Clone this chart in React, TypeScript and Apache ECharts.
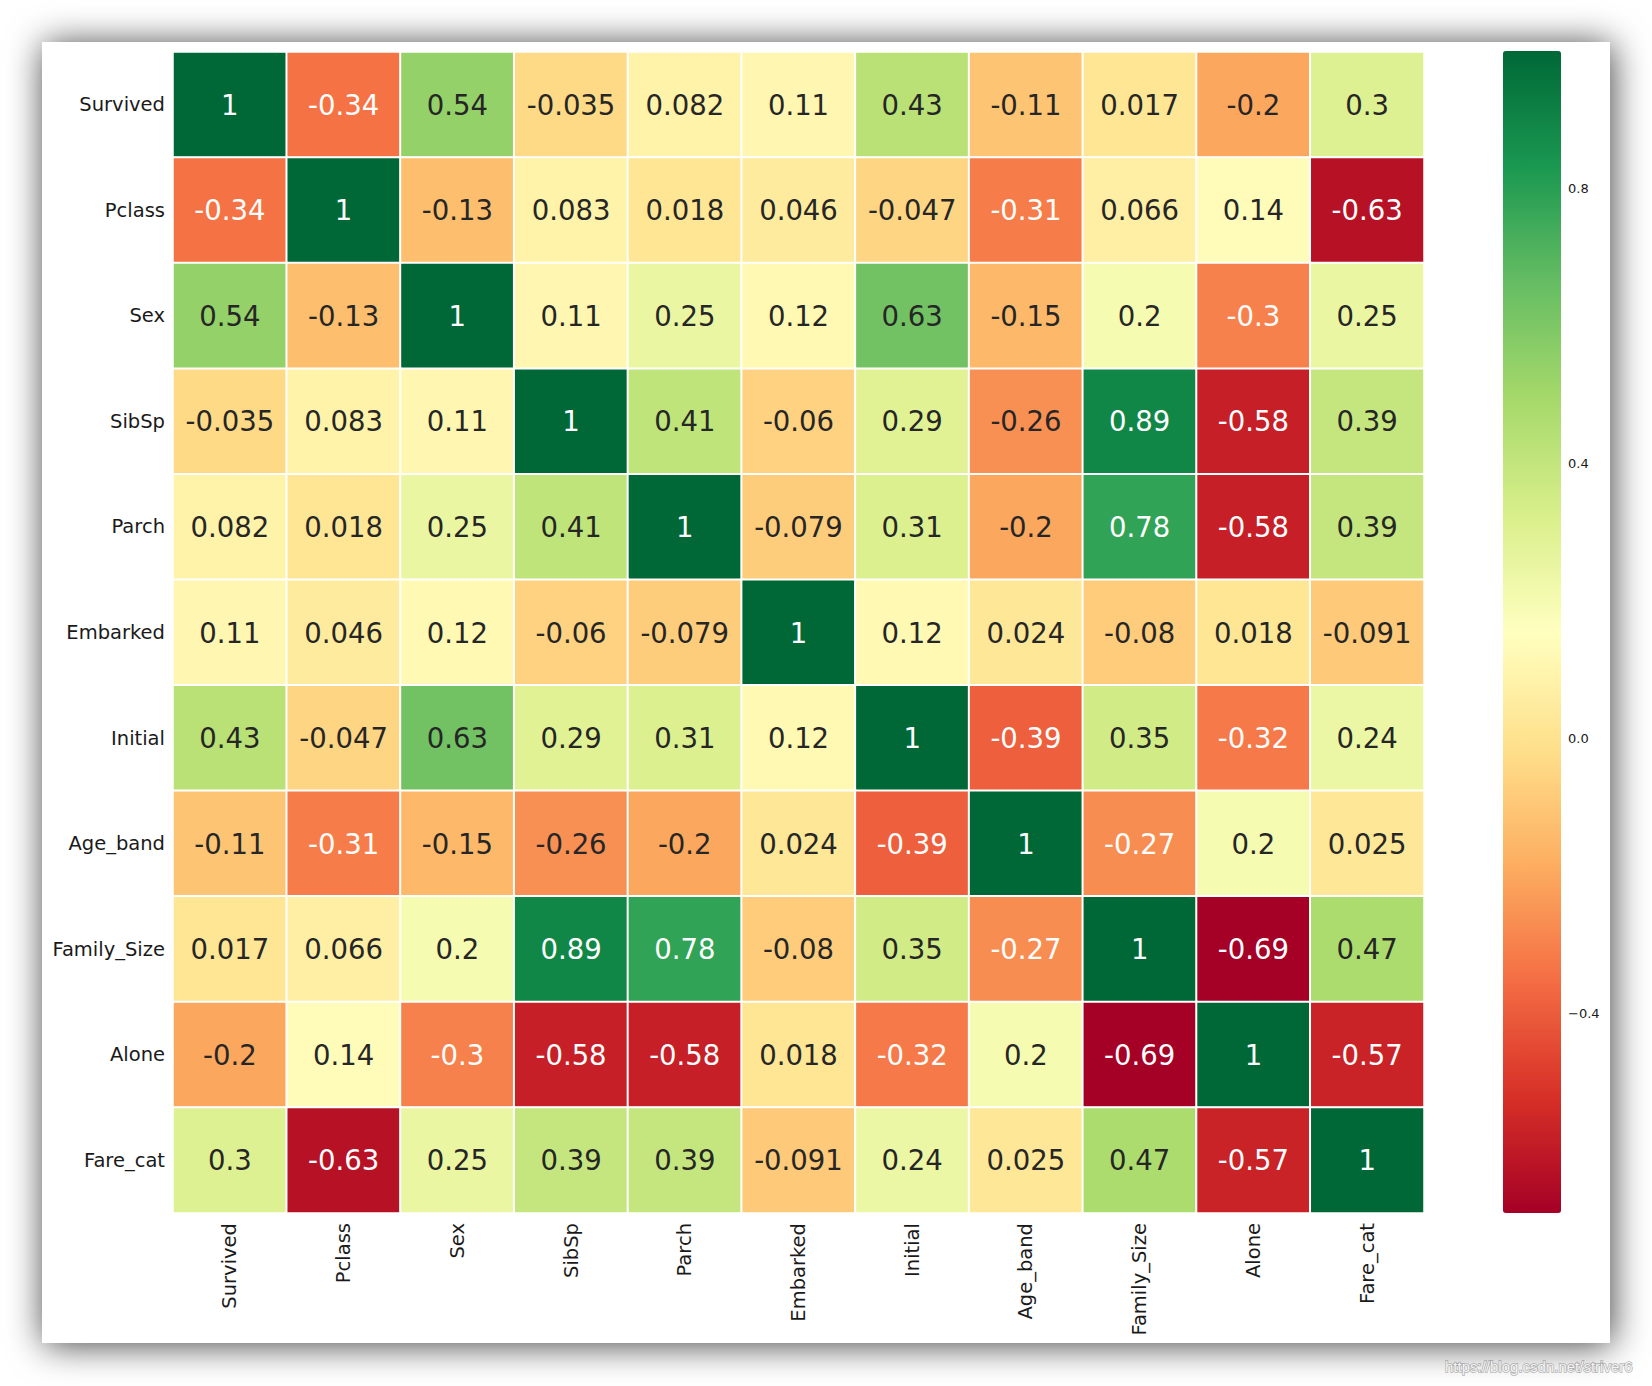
import React, { useEffect, useRef } from "react";
import * as echarts from "echarts";

const labels = ["Survived", "Pclass", "Sex", "SibSp", "Parch", "Embarked", "Initial", "Age_band", "Family_Size", "Alone", "Fare_cat"];

const rowSurvived = [1, -0.34, 0.54, -0.035, 0.082, 0.11, 0.43, -0.11, 0.017, -0.2, 0.3];
const rowPclass = [-0.34, 1, -0.13, 0.083, 0.018, 0.046, -0.047, -0.31, 0.066, 0.14, -0.63];
const rowSex = [0.54, -0.13, 1, 0.11, 0.25, 0.12, 0.63, -0.15, 0.2, -0.3, 0.25];
const rowSibSp = [-0.035, 0.083, 0.11, 1, 0.41, -0.06, 0.29, -0.26, 0.89, -0.58, 0.39];
const rowParch = [0.082, 0.018, 0.25, 0.41, 1, -0.079, 0.31, -0.2, 0.78, -0.58, 0.39];
const rowEmbarked = [0.11, 0.046, 0.12, -0.06, -0.079, 1, 0.12, 0.024, -0.08, 0.018, -0.091];
const rowInitial = [0.43, -0.047, 0.63, 0.29, 0.31, 0.12, 1, -0.39, 0.35, -0.32, 0.24];
const rowAgeBand = [-0.11, -0.31, -0.15, -0.26, -0.2, 0.024, -0.39, 1, -0.27, 0.2, 0.025];
const rowFamilySize = [0.017, 0.066, 0.2, 0.89, 0.78, -0.08, 0.35, -0.27, 1, -0.69, 0.47];
const rowAlone = [-0.2, 0.14, -0.3, -0.58, -0.58, 0.018, -0.32, 0.2, -0.69, 1, -0.57];
const rowFareCat = [0.3, -0.63, 0.25, 0.39, 0.39, -0.091, 0.24, 0.025, 0.47, -0.57, 1];

const matrix = [rowSurvived, rowPclass, rowSex, rowSibSp, rowParch, rowEmbarked, rowInitial, rowAgeBand, rowFamilySize, rowAlone, rowFareCat];

const vMin = -0.69;
const vMax = 1;
const colorbarTicks = [-0.4, 0, 0.4, 0.8];

const RdYlGn = ["#a50026", "#d73027", "#f46d43", "#fdae61", "#fee08b", "#ffffbf", "#d9ef8b", "#a6d96a", "#66bd63", "#1a9850", "#006837"];

function hexToRgb(h: string) {
  return [parseInt(h.slice(1, 3), 16), parseInt(h.slice(3, 5), 16), parseInt(h.slice(5, 7), 16)];
}

function colorAt(v: number) {
  let t = (v - vMin) / (vMax - vMin);
  t = Math.max(0, Math.min(1, t));
  const n = RdYlGn.length - 1;
  const idx = Math.min(n - 1, Math.floor(t * n));
  const f = t * n - idx;
  const a = hexToRgb(RdYlGn[idx]);
  const b = hexToRgb(RdYlGn[idx + 1]);
  return a.map((c, k) => c + (b[k] - c) * f);
}

function textColor(v: number) {
  const rgb = colorAt(v).map((c) => {
    const s = c / 255;
    return s <= 0.03928 ? s / 12.92 : Math.pow((s + 0.055) / 1.055, 2.4);
  });
  const lum = 0.2126 * rgb[0] + 0.7152 * rgb[1] + 0.0722 * rgb[2];
  return lum > 0.4 ? "#262626" : "#ffffff";
}

const FONT = "DejaVu Sans";

export default function App() {
  const ref = useRef<HTMLDivElement>(null);
  useEffect(() => {
    const chart = echarts.init(ref.current, null, { renderer: "svg" });
    const data: any[] = [];
    matrix.forEach((row, i) =>
      row.forEach((v, j) => {
        data.push({ value: [j, i, v], label: { color: textColor(v) } });
      })
    );
    chart.setOption({
      animation: false,
      backgroundColor: "#ffffff",
      textStyle: { fontFamily: FONT },
      graphic: [
        {
          type: "rect",
          z: -10,
          shape: { x: 42, y: 42, width: 1568, height: 1301 },
          style: {
            fill: "#ffffff",
            shadowBlur: 36,
            shadowColor: "rgba(0,0,0,0.75)",
            shadowOffsetX: 2,
            shadowOffsetY: 2,
          },
        },
        {
          type: "text",
          z: 10,
          x: 1445,
          y: 1359,
          style: {
            text: "https://blog.csdn.net/striver6",
            font: "15px Arial",
            fill: "#f4f4f4",
            stroke: "rgba(90,90,90,0.45)",
            lineWidth: 1.5,
          },
        },
      ],
      grid: [
        { left: 173, top: 52, width: 1251, height: 1161 },
        { left: 1503, top: 51, width: 58, height: 1162 },
      ],
      xAxis: [
        {
          type: "category",
          data: labels,
          gridIndex: 0,
          position: "bottom",
          axisLine: { show: false },
          axisTick: { show: false },
          splitLine: { show: false },
          axisLabel: { rotate: 90, fontSize: 19.5, color: "#1a1a1a", margin: 10, fontFamily: FONT },
        },
        { type: "value", gridIndex: 1, show: false, min: 0, max: 1 },
      ],
      yAxis: [
        {
          type: "category",
          data: labels,
          gridIndex: 0,
          inverse: true,
          axisLine: { show: false },
          axisTick: { show: false },
          splitLine: { show: false },
          axisLabel: { fontSize: 19.5, color: "#1a1a1a", margin: 8, fontFamily: FONT },
        },
        {
          type: "value",
          gridIndex: 1,
          min: vMin,
          max: vMax,
          position: "right",
          axisLine: { show: false },
          axisTick: { show: false },
          splitLine: { show: false },
          axisLabel: {
            customValues: colorbarTicks,
            fontSize: 13,
            color: "#1a1a1a",
            margin: 7,
            fontFamily: FONT,
            formatter: (v: number) => (v < 0 ? "\u2212" + Math.abs(v).toFixed(1) : v.toFixed(1)),
          },
        },
      ],
      visualMap: {
        type: "continuous",
        seriesIndex: 0,
        min: vMin,
        max: vMax,
        calculable: false,
        orient: "vertical",
        left: 1503,
        top: 51,
        itemWidth: 58,
        itemHeight: 1162,
        padding: 0,
        text: null,
        showLabel: false,
        inRange: { color: RdYlGn },
      },
      series: [
        {
          type: "heatmap",
          xAxisIndex: 0,
          yAxisIndex: 0,
          data,
          itemStyle: { borderColor: "#ffffff", borderWidth: 2 },
          emphasis: { disabled: true },
          label: {
            show: true,
            fontSize: 27.5,
            fontFamily: FONT,
            formatter: (p: any) => String(p.value[2]),
          },
        },
      ],
    });
    return () => chart.dispose();
  }, []);
  return (
    <div
      ref={ref}
      style={{ position: "absolute", left: 0, top: 0, width: 1652, height: 1386, background: "#fff" }}
    />
  );
}
